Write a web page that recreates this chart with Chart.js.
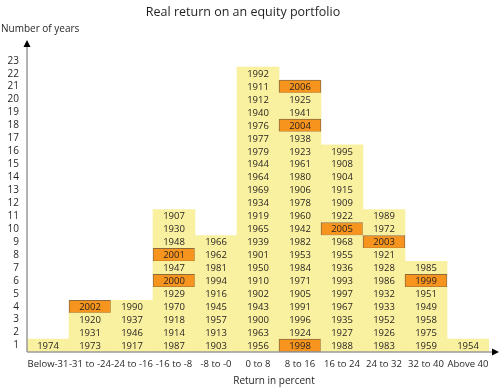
<!DOCTYPE html>
<html>
<head>
<meta charset="utf-8">
<script src="https://cdn.jsdelivr.net/npm/chart.js@4"></script>
<style>
    html, body { margin: 0; padding: 0; background: #fff; }
    #wrap { width: 500px; height: 389px; }
</style>
</head>
<body>
<div id="wrap"><canvas id="returnChart"></canvas></div>
<script>
// categories (return in percent)
const categories = ['Below-31', '-31 to -24', '-24 to -16', '-16 to -8', '-8 to -0', '0 to 8',
    '8 to 16', '16 to 24', '24 to 32', '32 to 40', 'Above 40'];

// years in each column, bottom to top
const colBelow31 = [1974];
const col31to24 = [1973, 1931, 1920, 2002];
const col24to16 = [1917, 1946, 1937, 1990];
const col16to8 = [1987, 1914, 1918, 1970, 1929, 2000, 1947, 2001, 1948, 1930, 1907];
const col8to0 = [1903, 1913, 1957, 1945, 1916, 1994, 1981, 1962, 1966];
const col0to8 = [1956, 1963, 1900, 1943, 1902, 1910, 1950, 1901, 1939, 1965, 1919, 1934, 1969,
    1964, 1944, 1979, 1977, 1976, 1940, 1912, 1911, 1992];
const col8to16 = [1998, 1924, 1996, 1991, 1905, 1971, 1984, 1953, 1982, 1942, 1960, 1978, 1906,
    1980, 1961, 1923, 1938, 2004, 1941, 1925, 2006];
const col16to24 = [1988, 1927, 1935, 1967, 1997, 1993, 1936, 1955, 1968, 2005, 1922, 1909, 1915,
    1904, 1908, 1995];
const col24to32 = [1983, 1926, 1952, 1933, 1932, 1986, 1928, 1921, 2003, 1972, 1989];
const col32to40 = [1959, 1975, 1958, 1949, 1951, 1999, 1985];
const colAbove40 = [1954];

// highlighted years (orange)
const highlighted = [1998, 1999, 2000, 2001, 2002, 2003, 2004, 2005, 2006];

// y tick labels
const yTicks = [1, 2, 3, 4, 5, 6, 7, 8, 9, 10, 11, 12, 13, 14, 15, 16, 17, 18, 19, 20, 21, 22, 23];

const columns = [colBelow31, col31to24, col24to16, col16to8, col8to0, col0to8,
    col8to16, col16to24, col24to32, col32to40, colAbove40];

const FONT = '"Open Sans", "DejaVu Sans", sans-serif';
const YELLOW = '#f9f19f';
const ORANGE = '#f7941e';

// one dataset per row level, each cell is a floating bar [row-1, row]
let maxRows = Math.max(...columns.map(c => c.length));
let datasets = [];
for (let r = 0; r < maxRows; r++) {
    datasets.push({
        data: columns.map(c => r < c.length ? [r, r + 1] : null),
        years: columns.map(c => r < c.length ? c[r] : null),
        backgroundColor: (ctx) => highlighted.includes(ctx.dataset.years[ctx.dataIndex]) ? ORANGE : YELLOW,
        borderColor: (ctx) => highlighted.includes(ctx.dataset.years[ctx.dataIndex]) ? '#8c6a3c' : YELLOW,
        borderWidth: (ctx) => highlighted.includes(ctx.dataset.years[ctx.dataIndex]) ? 1 : 0,
        borderSkipped: false,
        categoryPercentage: 1,
        barPercentage: 1,
        grouped: false
    });
}

// years inside cells, axes with arrows, titles
const decorPlugin = {
    id: 'decor',
    afterDatasetsDraw(chart) {
        let ctx = chart.ctx;
        ctx.save();
        ctx.font = '9.5px ' + FONT;
        ctx.fillStyle = '#231f20';
        ctx.textAlign = 'center';
        ctx.textBaseline = 'middle';
        chart.data.datasets.forEach((ds, i) => {
            let meta = chart.getDatasetMeta(i);
            meta.data.forEach((bar, j) => {
                if (ds.years[j] == null) return;
                ctx.fillText(ds.years[j], bar.x, (bar.y + bar.base) / 2 + 0.5);
            });
        });

        let area = chart.chartArea;
        // axes
        ctx.strokeStyle = '#9a9a9a';
        ctx.lineWidth = 1.5;
        ctx.beginPath();
        ctx.moveTo(area.left, area.bottom);
        ctx.lineTo(area.left, area.top + 6);
        ctx.moveTo(area.left, area.bottom);
        ctx.lineTo(chart.width - 8, area.bottom);
        ctx.stroke();
        ctx.fillStyle = '#000';
        ctx.beginPath();
        ctx.moveTo(area.left, area.top);
        ctx.lineTo(area.left - 3.5, area.top + 7);
        ctx.lineTo(area.left + 3.5, area.top + 7);
        ctx.fill();
        ctx.beginPath();
        ctx.moveTo(chart.width - 1, area.bottom);
        ctx.lineTo(chart.width - 8, area.bottom - 3.5);
        ctx.lineTo(chart.width - 8, area.bottom + 3.5);
        ctx.fill();

        // titles
        ctx.fillStyle = '#231f20';
        ctx.font = '12.5px ' + FONT;
        ctx.textAlign = 'center';
        ctx.fillText('Real return on an equity portfolio', 243, 12);
        ctx.font = '10px ' + FONT;
        ctx.textAlign = 'left';
        ctx.fillText('Number of years', 1, 29);
        ctx.textAlign = 'center';
        ctx.fillText('Return in percent', 274, 381);
        ctx.restore();
    }
};

new Chart(document.getElementById('returnChart'), {
    type: 'bar',
    data: {
        labels: categories,
        datasets: datasets
    },
    options: {
        responsive: true,
        maintainAspectRatio: false,
        animation: false,
        layout: {
            padding: {top: 40, right: 11, left: 0, bottom: 0}
        },
        plugins: {
            legend: {display: false},
            tooltip: {enabled: false}
        },
        scales: {
            x: {
                type: 'category',
                offset: true,
                grid: {display: false, drawTicks: false},
                border: {display: false},
                ticks: {
                    autoSkip: false,
                    maxRotation: 0,
                    minRotation: 0,
                    padding: 7,
                    color: '#231f20',
                    font: {family: FONT, size: 9.5}
                },
                afterFit(scale) {
                    scale.height = 37;
                }
            },
            y: {
                min: 0,
                max: 24.1,
                grid: {display: false, drawTicks: false},
                border: {display: false},
                afterBuildTicks(scale) {
                    scale.ticks = yTicks.map(v => ({value: v - 0.5}));
                },
                ticks: {
                    autoSkip: false,
                    padding: 8,
                    color: '#231f20',
                    font: {family: FONT, size: 10},
                    callback: (v) => Math.round(v + 0.5)
                },
                afterFit(scale) {
                    scale.width = 27;
                }
            }
        }
    },
    plugins: [decorPlugin]
});
</script>
</body>
</html>
